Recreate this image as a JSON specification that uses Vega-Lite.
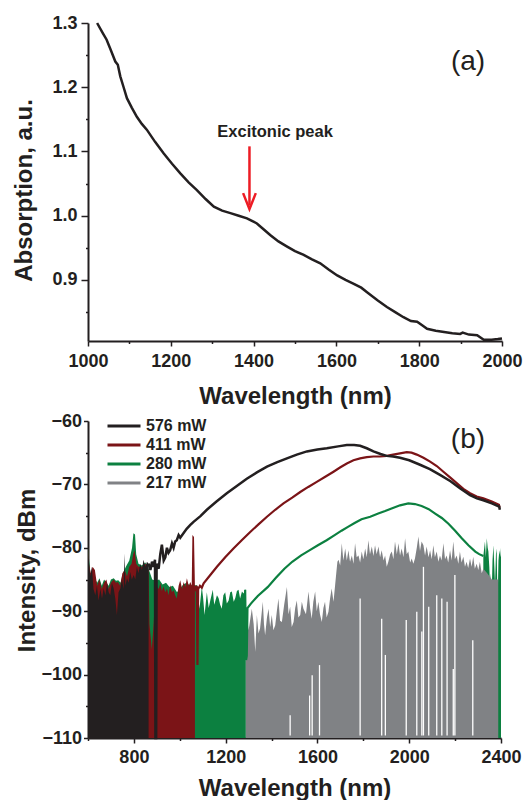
{
  "$schema": "https://vega.github.io/schema/vega-lite/v6.json",
  "padding": {"left": 12, "top": 14, "right": 0, "bottom": 0},
  "config": {
    "view": {"stroke": null},
    "font": "Liberation Sans",
    "axis": {
      "grid": false,
      "domainColor": "#231f20", "domainWidth": 2,
      "tickColor": "#231f20", "tickWidth": 1.5,
      "labelFont": "Liberation Sans", "labelFontWeight": "bold", "labelFontSize": 18, "labelColor": "#231f20",
      "labelFlush": false, "labelOverlap": false,
      "titleFont": "Liberation Sans", "titleFontWeight": "bold", "titleFontSize": 24, "titleColor": "#231f20"
    }
  },
  "resolve": {"scale": {"stroke": "independent"}, "legend": {"stroke": "independent"}},
  "datasets": {
    "abs": [
      {"nm":1022,"v":1.300},{"nm":1035,"v":1.285},{"nm":1045,"v":1.274},{"nm":1055,"v":1.258},{"nm":1066,"v":1.240},{"nm":1072,"v":1.235},{"nm":1078,"v":1.217},{"nm":1086,"v":1.200},{"nm":1094,"v":1.183},{"nm":1106,"v":1.168},{"nm":1118,"v":1.154},{"nm":1130,"v":1.143},{"nm":1142,"v":1.134},{"nm":1162,"v":1.115},{"nm":1183,"v":1.097},{"nm":1203,"v":1.081},{"nm":1223,"v":1.066},{"nm":1243,"v":1.052},{"nm":1263,"v":1.040},{"nm":1284,"v":1.026},{"nm":1304,"v":1.014},{"nm":1324,"v":1.008},{"nm":1344,"v":1.004},{"nm":1364,"v":1.000},{"nm":1384,"v":0.996},{"nm":1396,"v":0.992},{"nm":1408,"v":0.988},{"nm":1424,"v":0.979},{"nm":1440,"v":0.970},{"nm":1460,"v":0.960},{"nm":1481,"v":0.952},{"nm":1500,"v":0.945},{"nm":1521,"v":0.939},{"nm":1541,"v":0.932},{"nm":1561,"v":0.926},{"nm":1582,"v":0.916},{"nm":1602,"v":0.907},{"nm":1622,"v":0.900},{"nm":1642,"v":0.894},{"nm":1660,"v":0.888},{"nm":1674,"v":0.881},{"nm":1700,"v":0.868},{"nm":1722,"v":0.858},{"nm":1742,"v":0.850},{"nm":1762,"v":0.842},{"nm":1780,"v":0.836},{"nm":1795,"v":0.835},{"nm":1808,"v":0.829},{"nm":1819,"v":0.824},{"nm":1840,"v":0.821},{"nm":1860,"v":0.819},{"nm":1880,"v":0.817},{"nm":1899,"v":0.816},{"nm":1905,"v":0.818},{"nm":1920,"v":0.815},{"nm":1940,"v":0.814},{"nm":1956,"v":0.807},{"nm":1975,"v":0.807},{"nm":1990,"v":0.808},{"nm":2000,"v":0.809}
    ],
    "arrow": [{"nm":1390,"v":1.108,"v2":1.016}],
    "head": [{"nm":1390,"v":1.0103}],
    "notesA": [{"nm":1452,"v":1.122,"label":"Excitonic peak","kind":"peak"},{"nm":1918,"v":1.240,"label":"(a)","kind":"panel"}],
    "notesB": [{"nm":2256,"v":-63.0,"label":"(b)"}],
    "noise": [
      {"s":"280 mW","seg":"g1","nm":600,"dB":-80.0},{"s":"280 mW","seg":"g1","nm":605,"dB":-82.0},{"s":"280 mW","seg":"g1","nm":612,"dB":-84.5},{"s":"280 mW","seg":"g1","nm":620,"dB":-83.5},{"s":"280 mW","seg":"g1","nm":632,"dB":-85.0},{"s":"280 mW","seg":"g1","nm":640,"dB":-85.5},{"s":"280 mW","seg":"g1","nm":650,"dB":-84.8},{"s":"280 mW","seg":"g1","nm":660,"dB":-86.0},{"s":"280 mW","seg":"g1","nm":670,"dB":-85.0},{"s":"280 mW","seg":"g1","nm":680,"dB":-85.5},{"s":"280 mW","seg":"g1","nm":690,"dB":-86.0},{"s":"280 mW","seg":"g1","nm":700,"dB":-85.0},{"s":"280 mW","seg":"g1","nm":712,"dB":-84.8},{"s":"280 mW","seg":"g1","nm":722,"dB":-85.2},{"s":"280 mW","seg":"g1","nm":732,"dB":-85.1},{"s":"280 mW","seg":"g1","nm":742,"dB":-85.5},{"s":"280 mW","seg":"g1","nm":752,"dB":-84.0},{"s":"280 mW","seg":"g1","nm":765,"dB":-83.0},{"s":"280 mW","seg":"g1","nm":780,"dB":-82.0},{"s":"280 mW","seg":"g1","nm":792,"dB":-80.0},{"s":"280 mW","seg":"g1","nm":798,"dB":-77.7},{"s":"280 mW","seg":"g1","nm":805,"dB":-77.9},{"s":"280 mW","seg":"g1","nm":810,"dB":-81.0},{"s":"280 mW","seg":"g1","nm":820,"dB":-82.5},{"s":"280 mW","seg":"g1","nm":835,"dB":-82.8},{"s":"280 mW","seg":"g1","nm":850,"dB":-82.3},{"s":"280 mW","seg":"g1","nm":864,"dB":-83.3},{"s":"280 mW","seg":"g1","nm":880,"dB":-85.0},{"s":"280 mW","seg":"g1","nm":895,"dB":-85.2},{"s":"280 mW","seg":"g1","nm":910,"dB":-85.0},{"s":"280 mW","seg":"g1","nm":925,"dB":-85.8},{"s":"280 mW","seg":"g1","nm":940,"dB":-85.5},{"s":"280 mW","seg":"g1","nm":955,"dB":-86.2},{"s":"280 mW","seg":"g1","nm":970,"dB":-86.0},{"s":"280 mW","seg":"g1","nm":988,"dB":-87.0},{"s":"280 mW","seg":"g1","nm":1000,"dB":-86.5},{"s":"280 mW","seg":"g1","nm":1015,"dB":-85.8},{"s":"280 mW","seg":"g1","nm":1030,"dB":-85.5},{"s":"280 mW","seg":"g1","nm":1045,"dB":-86.0},{"s":"280 mW","seg":"g1","nm":1060,"dB":-85.8},{"s":"280 mW","seg":"g1","nm":1066,"dB":-85.9},{"s":"280 mW","seg":"g1","nm":1075,"dB":-85.9},{"s":"280 mW","seg":"g1","nm":1086,"dB":-89.6},{"s":"280 mW","seg":"g1","nm":1096,"dB":-86.1},{"s":"280 mW","seg":"g1","nm":1102,"dB":-88.0},{"s":"280 mW","seg":"g1","nm":1108,"dB":-90.6},{"s":"280 mW","seg":"g1","nm":1118,"dB":-87.0},{"s":"280 mW","seg":"g1","nm":1126,"dB":-89.5},{"s":"280 mW","seg":"g1","nm":1133,"dB":-88.3},{"s":"280 mW","seg":"g1","nm":1144,"dB":-86.6},{"s":"280 mW","seg":"g1","nm":1150,"dB":-89.0},{"s":"280 mW","seg":"g1","nm":1154,"dB":-88.5},{"s":"280 mW","seg":"g1","nm":1162,"dB":-87.5},{"s":"280 mW","seg":"g1","nm":1169,"dB":-87.9},{"s":"280 mW","seg":"g1","nm":1176,"dB":-89.0},{"s":"280 mW","seg":"g1","nm":1183,"dB":-89.6},{"s":"280 mW","seg":"g1","nm":1190,"dB":-87.5},{"s":"280 mW","seg":"g1","nm":1198,"dB":-87.0},{"s":"280 mW","seg":"g1","nm":1205,"dB":-88.8},{"s":"280 mW","seg":"g1","nm":1213,"dB":-88.3},{"s":"280 mW","seg":"g1","nm":1220,"dB":-87.0},{"s":"280 mW","seg":"g1","nm":1227,"dB":-86.9},{"s":"280 mW","seg":"g1","nm":1235,"dB":-88.5},{"s":"280 mW","seg":"g1","nm":1242,"dB":-87.9},{"s":"280 mW","seg":"g1","nm":1249,"dB":-86.8},{"s":"280 mW","seg":"g1","nm":1256,"dB":-86.6},{"s":"280 mW","seg":"g1","nm":1263,"dB":-88.0},{"s":"280 mW","seg":"g1","nm":1271,"dB":-86.9},{"s":"280 mW","seg":"g1","nm":1278,"dB":-87.2},{"s":"280 mW","seg":"g1","nm":1285,"dB":-86.6},{"s":"280 mW","seg":"g1","nm":1288,"dB":-86.6},
      {"s":"280 mW","seg":"g2","nm":2323,"dB":-81.3},{"s":"280 mW","seg":"g2","nm":2330,"dB":-79.0},{"s":"280 mW","seg":"g2","nm":2334,"dB":-81.5},{"s":"280 mW","seg":"g2","nm":2338,"dB":-78.5},{"s":"280 mW","seg":"g2","nm":2342,"dB":-80.0},{"s":"280 mW","seg":"g2","nm":2345,"dB":-80.6},{"s":"280 mW","seg":"g2","nm":2349,"dB":-83.0},{"s":"280 mW","seg":"g2","nm":2352,"dB":-85.9},{"s":"280 mW","seg":"g2","nm":2356,"dB":-84.0},{"s":"280 mW","seg":"g2","nm":2359,"dB":-88.0},{"s":"280 mW","seg":"g2","nm":2363,"dB":-82.0},{"s":"280 mW","seg":"g2","nm":2367,"dB":-79.6},{"s":"280 mW","seg":"g2","nm":2371,"dB":-83.0},{"s":"280 mW","seg":"g2","nm":2374,"dB":-85.9},{"s":"280 mW","seg":"g2","nm":2378,"dB":-81.0},{"s":"280 mW","seg":"g2","nm":2381,"dB":-80.1},{"s":"280 mW","seg":"g2","nm":2385,"dB":-89.0},{"s":"280 mW","seg":"g2","nm":2389,"dB":-82.0},{"s":"280 mW","seg":"g2","nm":2393,"dB":-80.4},{"s":"280 mW","seg":"g2","nm":2397,"dB":-81.5},{"s":"280 mW","seg":"g2","nm":2400,"dB":-80.0},
      {"s":"411 mW","seg":"r1","nm":600,"dB":-80.0},{"s":"411 mW","seg":"r1","nm":604,"dB":-82.5},{"s":"411 mW","seg":"r1","nm":612,"dB":-84.0},{"s":"411 mW","seg":"r1","nm":620,"dB":-83.0},{"s":"411 mW","seg":"r1","nm":630,"dB":-83.5},{"s":"411 mW","seg":"r1","nm":640,"dB":-86.0},{"s":"411 mW","seg":"r1","nm":650,"dB":-85.0},{"s":"411 mW","seg":"r1","nm":660,"dB":-86.5},{"s":"411 mW","seg":"r1","nm":670,"dB":-85.5},{"s":"411 mW","seg":"r1","nm":680,"dB":-85.0},{"s":"411 mW","seg":"r1","nm":690,"dB":-86.5},{"s":"411 mW","seg":"r1","nm":700,"dB":-85.5},{"s":"411 mW","seg":"r1","nm":712,"dB":-85.0},{"s":"411 mW","seg":"r1","nm":722,"dB":-85.5},{"s":"411 mW","seg":"r1","nm":730,"dB":-85.4},{"s":"411 mW","seg":"r1","nm":740,"dB":-86.0},{"s":"411 mW","seg":"r1","nm":750,"dB":-84.0},{"s":"411 mW","seg":"r1","nm":760,"dB":-83.5},{"s":"411 mW","seg":"r1","nm":770,"dB":-84.5},{"s":"411 mW","seg":"r1","nm":780,"dB":-83.0},{"s":"411 mW","seg":"r1","nm":790,"dB":-82.5},{"s":"411 mW","seg":"r1","nm":797,"dB":-81.0},{"s":"411 mW","seg":"r1","nm":803,"dB":-80.4},{"s":"411 mW","seg":"r1","nm":810,"dB":-82.5},{"s":"411 mW","seg":"r1","nm":820,"dB":-83.0},{"s":"411 mW","seg":"r1","nm":835,"dB":-83.0},{"s":"411 mW","seg":"r1","nm":850,"dB":-82.5},{"s":"411 mW","seg":"r1","nm":864,"dB":-83.5},{"s":"411 mW","seg":"r1","nm":868,"dB":-92.0},{"s":"411 mW","seg":"r1","nm":878,"dB":-96.0},{"s":"411 mW","seg":"r1","nm":886,"dB":-92.0},{"s":"411 mW","seg":"r1","nm":893,"dB":-87.0},{"s":"411 mW","seg":"r1","nm":900,"dB":-86.0},{"s":"411 mW","seg":"r1","nm":908,"dB":-86.5},{"s":"411 mW","seg":"r1","nm":915,"dB":-85.6},{"s":"411 mW","seg":"r1","nm":922,"dB":-86.8},{"s":"411 mW","seg":"r1","nm":929,"dB":-86.1},{"s":"411 mW","seg":"r1","nm":937,"dB":-87.0},{"s":"411 mW","seg":"r1","nm":944,"dB":-86.4},{"s":"411 mW","seg":"r1","nm":951,"dB":-87.5},{"s":"411 mW","seg":"r1","nm":958,"dB":-85.9},{"s":"411 mW","seg":"r1","nm":966,"dB":-87.0},{"s":"411 mW","seg":"r1","nm":973,"dB":-86.7},{"s":"411 mW","seg":"r1","nm":980,"dB":-87.5},{"s":"411 mW","seg":"r1","nm":987,"dB":-88.0},{"s":"411 mW","seg":"r1","nm":995,"dB":-86.0},{"s":"411 mW","seg":"r1","nm":1002,"dB":-85.1},{"s":"411 mW","seg":"r1","nm":1010,"dB":-86.5},{"s":"411 mW","seg":"r1","nm":1017,"dB":-85.4},{"s":"411 mW","seg":"r1","nm":1024,"dB":-86.2},{"s":"411 mW","seg":"r1","nm":1031,"dB":-84.8},{"s":"411 mW","seg":"r1","nm":1039,"dB":-86.0},{"s":"411 mW","seg":"r1","nm":1046,"dB":-85.4},{"s":"411 mW","seg":"r1","nm":1052,"dB":-86.0},{"s":"411 mW","seg":"r1","nm":1055,"dB":-78.0},{"s":"411 mW","seg":"r1","nm":1062,"dB":-78.3},{"s":"411 mW","seg":"r1","nm":1066,"dB":-86.0},
      {"s":"576 mW","seg":"k1","nm":600,"dB":-80.5},{"s":"576 mW","seg":"k1","nm":603,"dB":-81.7},{"s":"576 mW","seg":"k1","nm":610,"dB":-84.5},{"s":"576 mW","seg":"k1","nm":617,"dB":-83.0},{"s":"576 mW","seg":"k1","nm":624,"dB":-86.5},{"s":"576 mW","seg":"k1","nm":632,"dB":-87.5},{"s":"576 mW","seg":"k1","nm":639,"dB":-86.0},{"s":"576 mW","seg":"k1","nm":646,"dB":-88.3},{"s":"576 mW","seg":"k1","nm":654,"dB":-86.5},{"s":"576 mW","seg":"k1","nm":661,"dB":-88.0},{"s":"576 mW","seg":"k1","nm":668,"dB":-86.4},{"s":"576 mW","seg":"k1","nm":676,"dB":-87.5},{"s":"576 mW","seg":"k1","nm":683,"dB":-85.6},{"s":"576 mW","seg":"k1","nm":690,"dB":-87.0},{"s":"576 mW","seg":"k1","nm":697,"dB":-87.5},{"s":"576 mW","seg":"k1","nm":704,"dB":-85.5},{"s":"576 mW","seg":"k1","nm":712,"dB":-86.4},{"s":"576 mW","seg":"k1","nm":719,"dB":-88.0},{"s":"576 mW","seg":"k1","nm":726,"dB":-90.6},{"s":"576 mW","seg":"k1","nm":733,"dB":-87.0},{"s":"576 mW","seg":"k1","nm":741,"dB":-86.4},{"s":"576 mW","seg":"k1","nm":748,"dB":-85.0},{"s":"576 mW","seg":"k1","nm":755,"dB":-86.5},{"s":"576 mW","seg":"k1","nm":759,"dB":-80.9},{"s":"576 mW","seg":"k1","nm":763,"dB":-86.0},{"s":"576 mW","seg":"k1","nm":770,"dB":-84.8},{"s":"576 mW","seg":"k1","nm":777,"dB":-85.5},{"s":"576 mW","seg":"k1","nm":784,"dB":-83.8},{"s":"576 mW","seg":"k1","nm":791,"dB":-85.0},{"s":"576 mW","seg":"k1","nm":799,"dB":-84.3},{"s":"576 mW","seg":"k1","nm":806,"dB":-85.0},{"s":"576 mW","seg":"k1","nm":813,"dB":-83.0},{"s":"576 mW","seg":"k1","nm":820,"dB":-84.0},{"s":"576 mW","seg":"k1","nm":828,"dB":-82.5},{"s":"576 mW","seg":"k1","nm":835,"dB":-83.5},{"s":"576 mW","seg":"k1","nm":842,"dB":-81.9},{"s":"576 mW","seg":"k1","nm":850,"dB":-83.0},{"s":"576 mW","seg":"k1","nm":857,"dB":-82.2},{"s":"576 mW","seg":"k1","nm":864,"dB":-82.5},
      {"s":"217 mW","seg":"y1","nm":1288,"dB":-89.5},{"s":"217 mW","seg":"y1","nm":1300,"dB":-93.0},{"s":"217 mW","seg":"y1","nm":1314,"dB":-89.6},{"s":"217 mW","seg":"y1","nm":1322,"dB":-92.0},{"s":"217 mW","seg":"y1","nm":1329,"dB":-96.4},{"s":"217 mW","seg":"y1","nm":1336,"dB":-90.6},{"s":"217 mW","seg":"y1","nm":1343,"dB":-93.5},{"s":"217 mW","seg":"y1","nm":1350,"dB":-92.7},{"s":"217 mW","seg":"y1","nm":1362,"dB":-88.5},{"s":"217 mW","seg":"y1","nm":1367,"dB":-92.0},{"s":"217 mW","seg":"y1","nm":1372,"dB":-93.8},{"s":"217 mW","seg":"y1","nm":1380,"dB":-91.0},{"s":"217 mW","seg":"y1","nm":1387,"dB":-89.6},{"s":"217 mW","seg":"y1","nm":1394,"dB":-92.5},{"s":"217 mW","seg":"y1","nm":1401,"dB":-90.6},{"s":"217 mW","seg":"y1","nm":1408,"dB":-93.0},{"s":"217 mW","seg":"y1","nm":1416,"dB":-92.2},{"s":"217 mW","seg":"y1","nm":1423,"dB":-90.0},{"s":"217 mW","seg":"y1","nm":1430,"dB":-88.0},{"s":"217 mW","seg":"y1","nm":1437,"dB":-91.5},{"s":"217 mW","seg":"y1","nm":1445,"dB":-91.7},{"s":"217 mW","seg":"y1","nm":1455,"dB":-89.0},{"s":"217 mW","seg":"y1","nm":1467,"dB":-86.2},{"s":"217 mW","seg":"y1","nm":1474,"dB":-90.5},{"s":"217 mW","seg":"y1","nm":1481,"dB":-89.3},{"s":"217 mW","seg":"y1","nm":1488,"dB":-92.5},{"s":"217 mW","seg":"y1","nm":1496,"dB":-91.7},{"s":"217 mW","seg":"y1","nm":1503,"dB":-89.5},{"s":"217 mW","seg":"y1","nm":1510,"dB":-88.3},{"s":"217 mW","seg":"y1","nm":1517,"dB":-91.0},{"s":"217 mW","seg":"y1","nm":1525,"dB":-90.6},{"s":"217 mW","seg":"y1","nm":1532,"dB":-88.5},{"s":"217 mW","seg":"y1","nm":1539,"dB":-89.6},{"s":"217 mW","seg":"y1","nm":1550,"dB":-90.5},{"s":"217 mW","seg":"y1","nm":1561,"dB":-86.9},{"s":"217 mW","seg":"y1","nm":1568,"dB":-89.5},{"s":"217 mW","seg":"y1","nm":1575,"dB":-91.2},{"s":"217 mW","seg":"y1","nm":1582,"dB":-88.5},{"s":"217 mW","seg":"y1","nm":1590,"dB":-86.9},{"s":"217 mW","seg":"y1","nm":1597,"dB":-90.0},{"s":"217 mW","seg":"y1","nm":1604,"dB":-88.5},{"s":"217 mW","seg":"y1","nm":1611,"dB":-90.5},{"s":"217 mW","seg":"y1","nm":1619,"dB":-91.7},{"s":"217 mW","seg":"y1","nm":1626,"dB":-89.5},{"s":"217 mW","seg":"y1","nm":1633,"dB":-88.5},{"s":"217 mW","seg":"y1","nm":1640,"dB":-91.0},{"s":"217 mW","seg":"y1","nm":1648,"dB":-90.1},{"s":"217 mW","seg":"y1","nm":1655,"dB":-88.0},{"s":"217 mW","seg":"y1","nm":1662,"dB":-86.4},{"s":"217 mW","seg":"y1","nm":1670,"dB":-88.5},{"s":"217 mW","seg":"y1","nm":1677,"dB":-85.9},{"s":"217 mW","seg":"y1","nm":1682,"dB":-84.0},{"s":"217 mW","seg":"y1","nm":1687,"dB":-82.2},{"s":"217 mW","seg":"y1","nm":1692,"dB":-81.9},{"s":"217 mW","seg":"y1","nm":1699,"dB":-82.8},{"s":"217 mW","seg":"y1","nm":1706,"dB":-79.3},{"s":"217 mW","seg":"y1","nm":1713,"dB":-82.0},{"s":"217 mW","seg":"y1","nm":1721,"dB":-80.1},{"s":"217 mW","seg":"y1","nm":1728,"dB":-82.0},{"s":"217 mW","seg":"y1","nm":1735,"dB":-80.4},{"s":"217 mW","seg":"y1","nm":1742,"dB":-82.2},{"s":"217 mW","seg":"y1","nm":1750,"dB":-81.2},{"s":"217 mW","seg":"y1","nm":1757,"dB":-82.5},{"s":"217 mW","seg":"y1","nm":1764,"dB":-79.3},{"s":"217 mW","seg":"y1","nm":1771,"dB":-81.5},{"s":"217 mW","seg":"y1","nm":1779,"dB":-81.2},{"s":"217 mW","seg":"y1","nm":1786,"dB":-82.3},{"s":"217 mW","seg":"y1","nm":1793,"dB":-80.6},{"s":"217 mW","seg":"y1","nm":1800,"dB":-81.8},{"s":"217 mW","seg":"y1","nm":1808,"dB":-80.1},{"s":"217 mW","seg":"y1","nm":1815,"dB":-81.5},{"s":"217 mW","seg":"y1","nm":1822,"dB":-78.8},{"s":"217 mW","seg":"y1","nm":1829,"dB":-81.0},{"s":"217 mW","seg":"y1","nm":1837,"dB":-79.8},{"s":"217 mW","seg":"y1","nm":1844,"dB":-81.3},{"s":"217 mW","seg":"y1","nm":1851,"dB":-79.6},{"s":"217 mW","seg":"y1","nm":1858,"dB":-81.0},{"s":"217 mW","seg":"y1","nm":1866,"dB":-79.8},{"s":"217 mW","seg":"y1","nm":1873,"dB":-81.5},{"s":"217 mW","seg":"y1","nm":1880,"dB":-80.4},{"s":"217 mW","seg":"y1","nm":1888,"dB":-82.0},{"s":"217 mW","seg":"y1","nm":1895,"dB":-81.2},{"s":"217 mW","seg":"y1","nm":1902,"dB":-83.0},{"s":"217 mW","seg":"y1","nm":1909,"dB":-82.2},{"s":"217 mW","seg":"y1","nm":1917,"dB":-81.0},{"s":"217 mW","seg":"y1","nm":1924,"dB":-80.6},{"s":"217 mW","seg":"y1","nm":1931,"dB":-81.8},{"s":"217 mW","seg":"y1","nm":1938,"dB":-79.0},{"s":"217 mW","seg":"y1","nm":1946,"dB":-81.0},{"s":"217 mW","seg":"y1","nm":1953,"dB":-79.3},{"s":"217 mW","seg":"y1","nm":1960,"dB":-81.2},{"s":"217 mW","seg":"y1","nm":1967,"dB":-80.1},{"s":"217 mW","seg":"y1","nm":1975,"dB":-81.5},{"s":"217 mW","seg":"y1","nm":1982,"dB":-78.5},{"s":"217 mW","seg":"y1","nm":1989,"dB":-81.0},{"s":"217 mW","seg":"y1","nm":1996,"dB":-80.6},{"s":"217 mW","seg":"y1","nm":2004,"dB":-82.3},{"s":"217 mW","seg":"y1","nm":2011,"dB":-81.7},{"s":"217 mW","seg":"y1","nm":2018,"dB":-82.5},{"s":"217 mW","seg":"y1","nm":2025,"dB":-81.7},{"s":"217 mW","seg":"y1","nm":2033,"dB":-80.0},{"s":"217 mW","seg":"y1","nm":2040,"dB":-78.2},{"s":"217 mW","seg":"y1","nm":2047,"dB":-80.5},{"s":"217 mW","seg":"y1","nm":2054,"dB":-79.0},{"s":"217 mW","seg":"y1","nm":2062,"dB":-79.6},{"s":"217 mW","seg":"y1","nm":2069,"dB":-81.2},{"s":"217 mW","seg":"y1","nm":2076,"dB":-79.8},{"s":"217 mW","seg":"y1","nm":2084,"dB":-81.5},{"s":"217 mW","seg":"y1","nm":2091,"dB":-80.4},{"s":"217 mW","seg":"y1","nm":2098,"dB":-81.8},{"s":"217 mW","seg":"y1","nm":2105,"dB":-79.6},{"s":"217 mW","seg":"y1","nm":2112,"dB":-81.5},{"s":"217 mW","seg":"y1","nm":2120,"dB":-80.6},{"s":"217 mW","seg":"y1","nm":2127,"dB":-82.2},{"s":"217 mW","seg":"y1","nm":2134,"dB":-81.2},{"s":"217 mW","seg":"y1","nm":2141,"dB":-82.0},{"s":"217 mW","seg":"y1","nm":2149,"dB":-79.3},{"s":"217 mW","seg":"y1","nm":2156,"dB":-81.8},{"s":"217 mW","seg":"y1","nm":2163,"dB":-81.2},{"s":"217 mW","seg":"y1","nm":2170,"dB":-82.3},{"s":"217 mW","seg":"y1","nm":2178,"dB":-80.4},{"s":"217 mW","seg":"y1","nm":2185,"dB":-82.0},{"s":"217 mW","seg":"y1","nm":2192,"dB":-79.0},{"s":"217 mW","seg":"y1","nm":2199,"dB":-81.8},{"s":"217 mW","seg":"y1","nm":2207,"dB":-81.2},{"s":"217 mW","seg":"y1","nm":2214,"dB":-82.5},{"s":"217 mW","seg":"y1","nm":2221,"dB":-80.6},{"s":"217 mW","seg":"y1","nm":2228,"dB":-82.3},{"s":"217 mW","seg":"y1","nm":2236,"dB":-81.4},{"s":"217 mW","seg":"y1","nm":2243,"dB":-83.0},{"s":"217 mW","seg":"y1","nm":2250,"dB":-82.2},{"s":"217 mW","seg":"y1","nm":2257,"dB":-83.2},{"s":"217 mW","seg":"y1","nm":2265,"dB":-81.7},{"s":"217 mW","seg":"y1","nm":2272,"dB":-83.0},{"s":"217 mW","seg":"y1","nm":2279,"dB":-81.4},{"s":"217 mW","seg":"y1","nm":2286,"dB":-83.3},{"s":"217 mW","seg":"y1","nm":2294,"dB":-82.5},{"s":"217 mW","seg":"y1","nm":2301,"dB":-83.5},{"s":"217 mW","seg":"y1","nm":2308,"dB":-82.2},{"s":"217 mW","seg":"y1","nm":2316,"dB":-84.0},{"s":"217 mW","seg":"y1","nm":2323,"dB":-83.3},{"s":"217 mW","seg":"y1","nm":2340,"dB":-84.0},{"s":"217 mW","seg":"y1","nm":2360,"dB":-85.0},{"s":"217 mW","seg":"y1","nm":2388,"dB":-85.0}
    ],
    "lines": [
      {"s":"576 mW","nm":864,"dB":-82.5},{"s":"576 mW","nm":872,"dB":-83.5},{"s":"576 mW","nm":879,"dB":-82.2},{"s":"576 mW","nm":886,"dB":-83.0},{"s":"576 mW","nm":892,"dB":-81.9},{"s":"576 mW","nm":894,"dB":-110},{"s":"576 mW","nm":897,"dB":-110},{"s":"576 mW","nm":899,"dB":-82.5},{"s":"576 mW","nm":908,"dB":-83.3},{"s":"576 mW","nm":915,"dB":-81.0},{"s":"576 mW","nm":922,"dB":-79.5},{"s":"576 mW","nm":930,"dB":-82.0},{"s":"576 mW","nm":937,"dB":-81.5},{"s":"576 mW","nm":944,"dB":-80.0},{"s":"576 mW","nm":951,"dB":-80.8},{"s":"576 mW","nm":958,"dB":-80.4},{"s":"576 mW","nm":966,"dB":-79.3},{"s":"576 mW","nm":973,"dB":-80.0},{"s":"576 mW","nm":980,"dB":-79.0},{"s":"576 mW","nm":987,"dB":-78.8},{"s":"576 mW","nm":995,"dB":-78.0},{"s":"576 mW","nm":1002,"dB":-78.4},{"s":"576 mW","nm":1016,"dB":-77.7},{"s":"576 mW","nm":1030,"dB":-77.0},{"s":"576 mW","nm":1046,"dB":-76.4},{"s":"576 mW","nm":1060,"dB":-75.9},{"s":"576 mW","nm":1090,"dB":-75.0},{"s":"576 mW","nm":1118,"dB":-74.0},{"s":"576 mW","nm":1160,"dB":-72.7},{"s":"576 mW","nm":1205,"dB":-71.4},{"s":"576 mW","nm":1250,"dB":-70.2},{"s":"576 mW","nm":1292,"dB":-69.1},{"s":"576 mW","nm":1336,"dB":-68.1},{"s":"576 mW","nm":1380,"dB":-67.2},{"s":"576 mW","nm":1425,"dB":-66.5},{"s":"576 mW","nm":1467,"dB":-65.9},{"s":"576 mW","nm":1510,"dB":-65.3},{"s":"576 mW","nm":1554,"dB":-64.8},{"s":"576 mW","nm":1600,"dB":-64.5},{"s":"576 mW","nm":1641,"dB":-64.3},{"s":"576 mW","nm":1690,"dB":-64.0},{"s":"576 mW","nm":1728,"dB":-63.8},{"s":"576 mW","nm":1760,"dB":-63.8},{"s":"576 mW","nm":1786,"dB":-63.9},{"s":"576 mW","nm":1815,"dB":-64.3},{"s":"576 mW","nm":1844,"dB":-64.8},{"s":"576 mW","nm":1875,"dB":-65.2},{"s":"576 mW","nm":1902,"dB":-65.5},{"s":"576 mW","nm":1930,"dB":-65.6},{"s":"576 mW","nm":1960,"dB":-65.8},{"s":"576 mW","nm":2000,"dB":-66.2},{"s":"576 mW","nm":2047,"dB":-66.9},{"s":"576 mW","nm":2090,"dB":-67.6},{"s":"576 mW","nm":2134,"dB":-68.5},{"s":"576 mW","nm":2180,"dB":-69.5},{"s":"576 mW","nm":2221,"dB":-70.6},{"s":"576 mW","nm":2245,"dB":-71.2},{"s":"576 mW","nm":2265,"dB":-71.7},{"s":"576 mW","nm":2295,"dB":-72.2},{"s":"576 mW","nm":2323,"dB":-72.5},{"s":"576 mW","nm":2360,"dB":-73.0},{"s":"576 mW","nm":2392,"dB":-73.5},{"s":"576 mW","nm":2395,"dB":-74.0},
      {"s":"411 mW","nm":1062,"dB":-86.0},{"s":"411 mW","nm":1068,"dB":-86.5},{"s":"411 mW","nm":1074,"dB":-86.0},{"s":"411 mW","nm":1077,"dB":-98.5},{"s":"411 mW","nm":1080,"dB":-86.5},{"s":"411 mW","nm":1088,"dB":-86.0},{"s":"411 mW","nm":1096,"dB":-86.3},{"s":"411 mW","nm":1104,"dB":-85.6},{"s":"411 mW","nm":1133,"dB":-84.3},{"s":"411 mW","nm":1162,"dB":-83.0},{"s":"411 mW","nm":1198,"dB":-81.5},{"s":"411 mW","nm":1234,"dB":-80.1},{"s":"411 mW","nm":1270,"dB":-78.8},{"s":"411 mW","nm":1307,"dB":-77.5},{"s":"411 mW","nm":1343,"dB":-76.3},{"s":"411 mW","nm":1380,"dB":-75.1},{"s":"411 mW","nm":1416,"dB":-74.0},{"s":"411 mW","nm":1452,"dB":-73.0},{"s":"411 mW","nm":1490,"dB":-72.1},{"s":"411 mW","nm":1525,"dB":-71.2},{"s":"411 mW","nm":1560,"dB":-70.4},{"s":"411 mW","nm":1597,"dB":-69.6},{"s":"411 mW","nm":1634,"dB":-68.8},{"s":"411 mW","nm":1670,"dB":-68.0},{"s":"411 mW","nm":1700,"dB":-67.3},{"s":"411 mW","nm":1728,"dB":-66.7},{"s":"411 mW","nm":1757,"dB":-66.2},{"s":"411 mW","nm":1786,"dB":-65.9},{"s":"411 mW","nm":1815,"dB":-65.7},{"s":"411 mW","nm":1844,"dB":-65.6},{"s":"411 mW","nm":1873,"dB":-65.6},{"s":"411 mW","nm":1902,"dB":-65.5},{"s":"411 mW","nm":1930,"dB":-65.3},{"s":"411 mW","nm":1960,"dB":-65.1},{"s":"411 mW","nm":1989,"dB":-64.9},{"s":"411 mW","nm":2010,"dB":-65.0},{"s":"411 mW","nm":2033,"dB":-65.3},{"s":"411 mW","nm":2062,"dB":-65.8},{"s":"411 mW","nm":2091,"dB":-66.4},{"s":"411 mW","nm":2120,"dB":-67.1},{"s":"411 mW","nm":2149,"dB":-68.0},{"s":"411 mW","nm":2178,"dB":-68.9},{"s":"411 mW","nm":2207,"dB":-69.8},{"s":"411 mW","nm":2236,"dB":-70.7},{"s":"411 mW","nm":2265,"dB":-71.4},{"s":"411 mW","nm":2294,"dB":-71.9},{"s":"411 mW","nm":2323,"dB":-72.2},{"s":"411 mW","nm":2360,"dB":-72.7},{"s":"411 mW","nm":2391,"dB":-73.2},{"s":"411 mW","nm":2394,"dB":-73.7},
      {"s":"280 mW","nm":1285,"dB":-86.6},{"s":"280 mW","nm":1289,"dB":-97.7},{"s":"280 mW","nm":1292,"dB":-97.0},{"s":"280 mW","nm":1295,"dB":-89.5},{"s":"280 mW","nm":1310,"dB":-88.8},{"s":"280 mW","nm":1340,"dB":-87.6},{"s":"280 mW","nm":1383,"dB":-86.2},{"s":"280 mW","nm":1420,"dB":-84.7},{"s":"280 mW","nm":1456,"dB":-83.3},{"s":"280 mW","nm":1490,"dB":-82.2},{"s":"280 mW","nm":1529,"dB":-81.2},{"s":"280 mW","nm":1565,"dB":-80.4},{"s":"280 mW","nm":1602,"dB":-79.6},{"s":"280 mW","nm":1640,"dB":-78.8},{"s":"280 mW","nm":1675,"dB":-78.0},{"s":"280 mW","nm":1705,"dB":-77.3},{"s":"280 mW","nm":1733,"dB":-76.7},{"s":"280 mW","nm":1762,"dB":-76.1},{"s":"280 mW","nm":1792,"dB":-75.5},{"s":"280 mW","nm":1830,"dB":-75.1},{"s":"280 mW","nm":1865,"dB":-74.6},{"s":"280 mW","nm":1895,"dB":-74.2},{"s":"280 mW","nm":1923,"dB":-73.8},{"s":"280 mW","nm":1960,"dB":-73.3},{"s":"280 mW","nm":1996,"dB":-73.0},{"s":"280 mW","nm":2025,"dB":-73.1},{"s":"280 mW","nm":2054,"dB":-73.4},{"s":"280 mW","nm":2085,"dB":-73.9},{"s":"280 mW","nm":2113,"dB":-74.6},{"s":"280 mW","nm":2142,"dB":-75.3},{"s":"280 mW","nm":2171,"dB":-76.2},{"s":"280 mW","nm":2200,"dB":-77.3},{"s":"280 mW","nm":2229,"dB":-78.5},{"s":"280 mW","nm":2258,"dB":-79.6},{"s":"280 mW","nm":2288,"dB":-80.6},{"s":"280 mW","nm":2305,"dB":-81.0},{"s":"280 mW","nm":2323,"dB":-81.3}
    ],
    "gaps": [
      {"nm":1481,"top":-106.4},{"nm":1566,"top":-103.3},{"nm":1577,"top":-100.1},{"nm":1609,"top":-98.5},{"nm":1786,"top":-88.0},{"nm":1880,"top":-91.2},{"nm":1896,"top":-96.9},{"nm":1987,"top":-91.4},{"nm":2033,"top":-90.1},{"nm":2055,"top":-93.2},{"nm":2062,"top":-83.0},{"nm":2085,"top":-89.3},{"nm":2120,"top":-87.5},{"nm":2142,"top":-88.0},{"nm":2165,"top":-88.5},{"nm":2192,"top":-99.1},{"nm":2199,"top":-84.3},{"nm":2277,"top":-94.6}
    ]
  },
  "spacing": 4,
  "vconcat": [
    {
      "width": 414, "height": 318,
      "layer": [
        {
          "data": {"name": "abs"},
          "mark": {"type": "line", "color": "#231f20", "strokeWidth": 2.5},
          "encoding": {
            "x": {"field": "nm", "type": "quantitative",
              "scale": {"domain": [1000, 2000], "nice": false, "zero": false},
              "axis": {"values": [1000,1100,1200,1300,1400,1500,1600,1700,1800,1900,2000], "tickCount": 40,
                "labelExpr": "datum.value % 200 === 0 ? format(datum.value, 'd') : ''",
                "tickSize": {"condition": {"test": "datum.value % 200 === 0", "value": 5}, "value": 2.5},
                "labelPadding": 6, "title": "Wavelength (nm)", "titleY": 62, "titleBaseline": "alphabetic"}},
            "y": {"field": "v", "type": "quantitative",
              "scale": {"domain": [0.805, 1.3], "nice": false, "zero": false},
              "axis": {"values": [0.85,0.9,0.95,1,1.05,1.1,1.15,1.2,1.25,1.3], "tickCount": 40, "format": ".2f",
                "labelExpr": "slice(format(datum.value, '.2f'), -1) === '0' ? format(datum.value, '.1f') : ''",
                "tickSize": {"condition": {"test": "slice(format(datum.value, '.2f'), -1) === '0'", "value": 7}, "value": 2.5},
                "labelPadding": 4, "title": "Absorption, a.u.", "titleX": -57, "titleY": 167, "titleBaseline": "alphabetic", "titleAlign": "center"}}
          }
        },
        {
          "data": {"name": "arrow"},
          "mark": {"type": "rule", "color": "#ed1c24", "strokeWidth": 2.5},
          "encoding": {
            "x": {"field": "nm", "type": "quantitative"},
            "y": {"field": "v", "type": "quantitative"},
            "y2": {"field": "v2"}
          }
        },
        {
          "data": {"name": "head"},
          "mark": {"type": "point", "shape": "M -0.635 -1.6 L 0 0 L 0.635 -1.6", "filled": false, "stroke": "#ed1c24", "strokeWidth": 2.5, "size": 400, "opacity": 1},
          "encoding": {
            "x": {"field": "nm", "type": "quantitative"},
            "y": {"field": "v", "type": "quantitative"}
          }
        },
        {
          "data": {"name": "notesA"},
          "transform": [{"filter": "datum.kind === 'peak'"}],
          "mark": {"type": "text", "font": "Liberation Sans", "fontWeight": "bold", "fontSize": 16.5, "color": "#231f20", "align": "center", "baseline": "alphabetic"},
          "encoding": {
            "x": {"field": "nm", "type": "quantitative"},
            "y": {"field": "v", "type": "quantitative"},
            "text": {"field": "label"}
          }
        },
        {
          "data": {"name": "notesA"},
          "transform": [{"filter": "datum.kind === 'panel'"}],
          "mark": {"type": "text", "font": "Liberation Sans", "fontSize": 28, "color": "#231f20", "align": "center", "baseline": "middle"},
          "encoding": {
            "x": {"field": "nm", "type": "quantitative"},
            "y": {"field": "v", "type": "quantitative"},
            "text": {"field": "label"}
          }
        }
      ]
    },
    {
      "width": 413, "height": 317,
      "layer": [
        {
          "data": {"name": "noise"},
          "transform": [{"filter": "datum.seg === 'g1'"}],
          "mark": {"type": "area", "color": "#0c8040", "opacity": 1},
          "encoding": {
            "x": {"field": "nm", "type": "quantitative",
              "scale": {"domain": [600, 2400], "nice": false, "zero": false},
              "axis": {"values": [600,800,1000,1200,1400,1600,1800,2000,2200,2400], "tickCount": 40,
                "labelExpr": "datum.value % 400 === 0 ? format(datum.value, 'd') : ''",
                "tickSize": {"condition": {"test": "datum.value % 400 === 0", "value": 5}, "value": 2.5},
                "labelPadding": 5, "title": "Wavelength (nm)", "titleY": 57, "titleBaseline": "alphabetic"}},
            "y": {"field": "dB", "type": "quantitative",
              "scale": {"domain": [-110, -60], "nice": false, "zero": false},
              "axis": {"values": [-110,-105,-100,-95,-90,-85,-80,-75,-70,-65,-60], "tickCount": 40,
                "labelExpr": "datum.value % 10 === 0 ? format(datum.value, 'd') : ''",
                "tickSize": {"condition": {"test": "datum.value % 10 === 0", "value": 4.5}, "value": 2.5},
                "labelPadding": 2, "title": "Intensity, dBm", "titleX": -54, "titleY": 149, "titleBaseline": "alphabetic", "titleAlign": "center"}},
            "y2": {"datum": -110}
          }
        },
        {
          "data": {"name": "noise"},
          "transform": [{"filter": "datum.seg === 'g2'"}],
          "mark": {"type": "area", "color": "#0c8040", "opacity": 1},
          "encoding": {
            "x": {"field": "nm", "type": "quantitative"},
            "y": {"field": "dB", "type": "quantitative"},
            "y2": {"datum": -110}
          }
        },
        {
          "data": {"name": "noise"},
          "transform": [{"filter": "datum.seg === 'r1'"}],
          "mark": {"type": "area", "color": "#7b1417", "opacity": 1},
          "encoding": {
            "x": {"field": "nm", "type": "quantitative"},
            "y": {"field": "dB", "type": "quantitative"},
            "y2": {"datum": -110}
          }
        },
        {
          "data": {"name": "noise"},
          "transform": [{"filter": "datum.seg === 'k1'"}],
          "mark": {"type": "area", "color": "#231f20", "opacity": 1},
          "encoding": {
            "x": {"field": "nm", "type": "quantitative"},
            "y": {"field": "dB", "type": "quantitative"},
            "y2": {"datum": -110}
          }
        },
        {
          "data": {"name": "noise"},
          "transform": [{"filter": "datum.seg === 'y1'"}],
          "mark": {"type": "area", "color": "#808285", "opacity": 1},
          "encoding": {
            "x": {"field": "nm", "type": "quantitative"},
            "y": {"field": "dB", "type": "quantitative"},
            "y2": {"datum": -110}
          }
        },
        {
          "data": {"name": "gaps"},
          "mark": {"type": "rule", "color": "#ffffff", "strokeWidth": 1.3},
          "encoding": {
            "x": {"field": "nm", "type": "quantitative"},
            "y": {"field": "top", "type": "quantitative"},
            "y2": {"datum": -109.6}
          }
        },
        {
          "data": {"name": "lines"},
          "transform": [{"filter": "datum.s === '280 mW'"}],
          "mark": {"type": "line", "strokeWidth": 2.2},
          "encoding": {
            "x": {"field": "nm", "type": "quantitative"},
            "y": {"field": "dB", "type": "quantitative"},
            "stroke": {"field": "s", "type": "nominal",
              "scale": {"domain": ["576 mW","411 mW","280 mW","217 mW"], "range": ["#231f20","#7b1417","#0c8040","#808285"]},
              "legend": {"orient": "none", "legendX": 28, "legendY": -3, "title": null,
                "symbolType": "M -3 0 H 3", "symbolSize": 121, "symbolStrokeWidth": 3,
                "labelFont": "Liberation Sans", "labelFontWeight": "bold", "labelFontSize": 16, "labelColor": "#231f20",
                "labelOffset": 14, "rowPadding": 3, "padding": 0}}
          }
        },
        {
          "data": {"name": "lines"},
          "transform": [{"filter": "datum.s === '411 mW'"}],
          "mark": {"type": "line", "strokeWidth": 2.2},
          "encoding": {
            "x": {"field": "nm", "type": "quantitative"},
            "y": {"field": "dB", "type": "quantitative"},
            "stroke": {"field": "s", "type": "nominal"}
          }
        },
        {
          "data": {"name": "lines"},
          "transform": [{"filter": "datum.s === '576 mW'"}],
          "mark": {"type": "line", "strokeWidth": 2.5},
          "encoding": {
            "x": {"field": "nm", "type": "quantitative"},
            "y": {"field": "dB", "type": "quantitative"},
            "stroke": {"field": "s", "type": "nominal"}
          }
        },
        {
          "data": {"name": "notesB"},
          "mark": {"type": "text", "font": "Liberation Sans", "fontSize": 28, "color": "#231f20", "align": "center", "baseline": "middle"},
          "encoding": {
            "x": {"field": "nm", "type": "quantitative"},
            "y": {"field": "v", "type": "quantitative"},
            "text": {"field": "label"}
          }
        }
      ]
    }
  ]
}
